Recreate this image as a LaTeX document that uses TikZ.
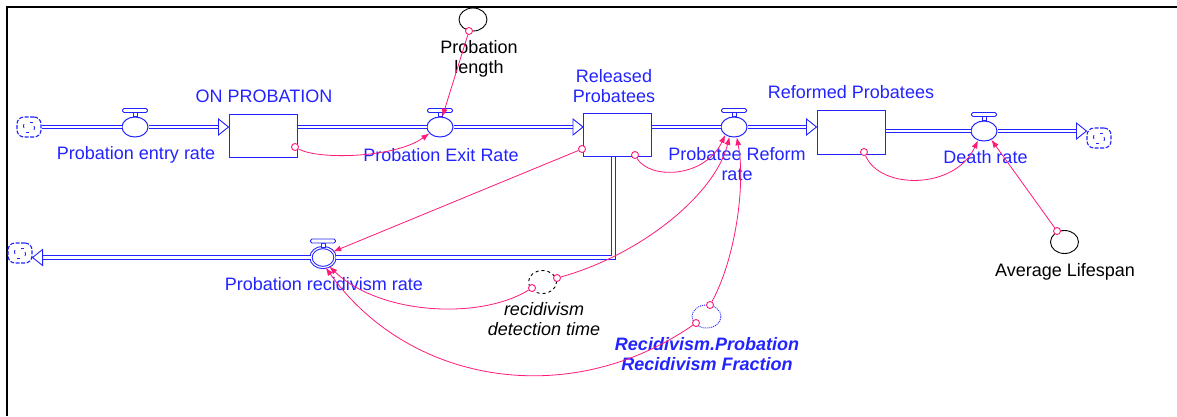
\documentclass[tikz,border=0pt]{standalone}
\usepackage{fontspec}
\setmainfont{Liberation Sans}
\usetikzlibrary{shapes.geometric,arrows.meta,calc}
\definecolor{fblue}{RGB}{35,35,255}
\definecolor{lpink}{RGB}{255,25,120}
\newcommand\vhandle[1]{%
  \draw[fblue, line width=0.9pt, fill=white] ($(#1.north)+(-2,0)$) rectangle ($(#1.north)+(2,-4)$);
  \draw[fblue, line width=0.9pt, fill=white, rounded corners=1.5pt] ($(#1.north)+(-12.5,-4)$) rectangle ($(#1.north)+(12.5,-8)$);}
\newcommand\fhead[1]{\draw[fblue, line width=0.9pt, fill=white, line join=miter] (#1) -- ++(-10,-8) -- ++(0,16) -- cycle;}
\newcommand\fheadL[1]{\draw[fblue, line width=0.9pt, fill=white, line join=miter] (#1) -- ++(10,-8) -- ++(0,16) -- cycle;}
\newcommand\cloudmarks[1]{%
  \draw[fblue, line width=0.9pt] ($(#1.center)+(-5,-3)$) arc[start angle=150, end angle=210, radius=4pt];
  \draw[fblue, line width=0.9pt] ($(#1.center)+(5,3)$) arc[start angle=-30, end angle=30, radius=4pt];
  \draw[fblue, line width=0.9pt] ($(#1.center)+(1,-5)$) -- ++(3,0);
  \draw[fblue, line width=0.9pt] ($(#1.center)+(-3,5)$) -- ++(3,0);}
\begin{document}
\begin{tikzpicture}[x=1pt,y=-1pt,
  every node/.style={font=\fontsize{18}{20}\selectfont},
  pipe/.style={draw=fblue, double=white, double distance=2.6pt, line width=1pt, line join=miter},
  stockbox/.style={rectangle, draw=fblue, line width=1pt, minimum width=68pt, minimum height=43pt, inner sep=0},
  valve/.style={ellipse, draw=fblue, line width=1pt, fill=white, minimum width=26pt, minimum height=20pt, inner sep=0},
  auxv/.style={ellipse, draw=black, line width=0.9pt, minimum width=28pt, minimum height=23pt, inner sep=0},
  cloudsrc/.style={rectangle, rounded corners=7pt, draw=fblue, line width=1.1pt, dash pattern=on 4pt off 1.5pt, minimum width=24pt, minimum height=20pt, inner sep=0},
  link/.style={draw=lpink, line width=0.8pt, -{Latex[length=8pt,width=6pt]}},
  tailc/.style={circle, draw=lpink, line width=0.9pt, minimum size=7pt, inner sep=0, fill=white},
  bl/.style={text=fblue, inner sep=0},
  bk/.style={text=black, inner sep=0},
]
\useasboundingbox (0,0) rectangle (1177,416);
\draw[line width=2.5pt] (7,416) -- (7,7) -- (1177,7);

% stocks, valves, clouds
\node[cloudsrc] (c1) at (29,127) {};
\node[valve] (v1) at (135,127) {};
\node[stockbox] (onp) at (263,135.5) {};
\node[valve] (v2) at (440,127) {};
\node[stockbox] (rel) at (617.5,134.5) {};
\node[valve] (v3) at (734,127) {};
\node[stockbox, minimum height=44pt] (ref) at (851,132) {};
\node[valve] (v4) at (984,131) {};
\node[cloudsrc] (c2) at (1099,138) {};
\node[valve, minimum width=24pt, double=white, double distance=1.2pt] (v5) at (323,257.5) {};
\node[cloudsrc] (c3) at (20,253) {};
\cloudmarks{c1}\cloudmarks{c2}\cloudmarks{c3}

% auxiliaries
\node[auxv] (plen) at (473,19.5) {};
\node[auxv] (avg) at (1064.5,242) {};
\node[auxv, dashed] (rdt) at (542.5,282) {};
\node[auxv, draw=fblue, dash pattern=on 1pt off 1pt, minimum width=29pt] (rrf) at (706.5,316.5) {};

% flows
\draw[pipe] (c1.east) -- (v1.west);
\coordinate (a1) at (onp.west |- v1.east);
\draw[pipe] (v1.east) -- ($(a1)+(-9,0)$);
\fhead{a1}
\draw[pipe] (onp.east |- v2.west) -- (v2.west);
\coordinate (a2) at (rel.west |- v2.east);
\draw[pipe] (v2.east) -- ($(a2)+(-9,0)$);
\fhead{a2}
\draw[pipe] (rel.east |- v3.west) -- (v3.west);
\coordinate (a3) at (ref.west |- v3.east);
\draw[pipe] (v3.east) -- ($(a3)+(-9,0)$);
\fhead{a3}
\draw[pipe] (ref.east |- v4.west) -- (v4.west);
\coordinate (a4) at (c2.west |- v4.east);
\draw[pipe] (v4.east) -- ($(a4)+(-9,0)$);
\fhead{a4}
\coordinate (rs) at ($(rel.south)+(-4,0)$);
\coordinate (bend) at (rs |- v5.east);
\draw[pipe] (rs) -- (bend) -- (v5.east);
\coordinate (a5) at (c3.east |- v5.west);
\draw[pipe] (v5.west) -- ($(a5)+(9,0)$);
\fheadL{a5}

\vhandle{v1}\vhandle{v2}\vhandle{v3}\vhandle{v4}\vhandle{v5}

% labels
\node[bl, anchor=base] (lonp) at (264,102) {ON PROBATION};
\node[bl, anchor=base] (lv1) at (136,159) {Probation entry rate};
\node[bl, anchor=base] (lv2) at (441,161) {Probation Exit Rate};
\node[bl, anchor=north, align=center] (lrel) at (614,69) {Released\\Probatees};
\node[bl, anchor=north, align=center] (lv3) at (737,147) {Probatee Reform\\rate};
\node[bl, anchor=base] (lref) at (851,98) {Reformed Probatees};
\node[bl, anchor=base] (lv4) at (985.5,163) {Death rate};
\node[bl, anchor=base] (lv5) at (324,290) {Probation recidivism rate};
\node[bk, anchor=north, align=center] (lplen) at (479,40) {Probation\\length};
\node[bk, anchor=base] (lavg) at (1065,276) {Average Lifespan};
\node[bk, anchor=north, align=center, font=\fontsize{18}{20}\selectfont\itshape] (lrdt) at (544,302) {recidivism\\detection time};
\node[bl, anchor=north, align=center, font=\fontsize{18}{20}\selectfont\bfseries\itshape] (lrrf) at (707,337) {Recidivism.Probation\\Recidivism Fraction};

% links
\node[tailc] (t1) at (295,147) {};
\draw[link] (t1) .. controls (318,160) and (395,158) .. (v2.211);
\node[tailc] (t2) at (469,31) {};
\draw[link] (t2) -- (v2.77);
\node[tailc] (t3) at (582,149) {};
\draw[link] (t3) -- (v5.30);
\node[tailc] (t4) at (635,155) {};
\draw[link] (t4) .. controls (650,180) and (705,178) .. (v3.222);
\node[tailc] (t5) at (557,278) {};
\draw[link] (t5) .. controls (640,255) and (715,195) .. (v3.245);
\node[tailc] (t6) at (710,305) {};
\draw[link] (t6) .. controls (735,260) and (746,185) .. (v3.285);
\node[tailc] (t7) at (532,288) {};
\draw[link] (t7) .. controls (480,320) and (380,315) .. (v5.305);
\node[tailc] (t8) at (696,323) {};
\draw[link] (t8) .. controls (570,410) and (410,385) .. (v5.285);
\node[tailc] (t9) at (864,152) {};
\draw[link] (t9) .. controls (880,190) and (955,190) .. (v4.237);
\node[tailc] (t10) at (1057,231) {};
\draw[link] (t10) -- (v4.310);
\end{tikzpicture}
\end{document}
